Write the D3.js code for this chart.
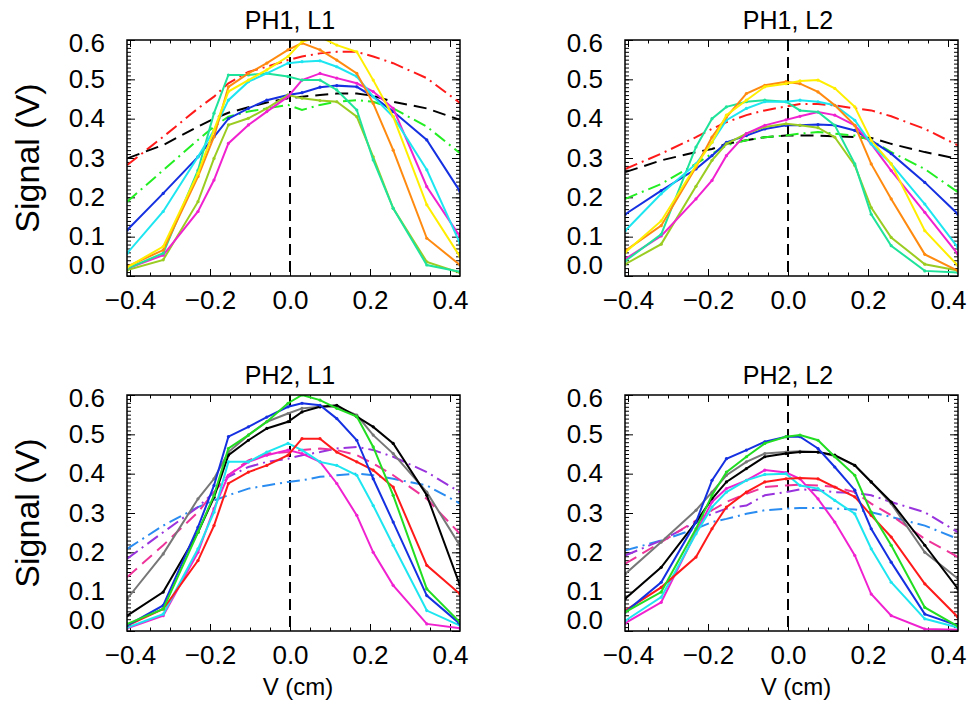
<!DOCTYPE html>
<html>
<head>
<meta charset="utf-8">
<script src="https://cdn.jsdelivr.net/npm/d3@7/dist/d3.min.js"></script>
<style>
  body { margin: 0; background: #fff; }
  svg { font-family: "Liberation Sans", Arial, sans-serif; }
  .tick text { font-size: 26px; fill: #000; }
  .axis path { display: none; }
  .axis line { stroke: #000; stroke-width: 1; }
</style>
</head>
<body>
<div id="chart"></div>
<script>
// sample positions (cm) shared by every scan
var xPos = [-0.407, -0.317, -0.23, -0.19, -0.154, -0.104, -0.058, -0.005, 0.03, 0.075, 0.117, 0.167, 0.208, 0.258, 0.342, 0.425];

var xTicks = [-0.4, -0.2, 0.0, 0.2, 0.4];
var yTicks = [0.0, 0.1, 0.2, 0.3, 0.4, 0.5, 0.6];
var titles = ["PH1, L1", "PH1, L2", "PH2, L1", "PH2, L2"];

// PH1, L1
var p11_blue    = [0.117, 0.21, 0.303, 0.354, 0.40, 0.426, 0.447, 0.46, 0.466, 0.48, 0.484, 0.481, 0.456, 0.418, 0.346, 0.215];
var p11_cyan    = [0.058, 0.164, 0.303, 0.371, 0.447, 0.494, 0.515, 0.541, 0.545, 0.547, 0.532, 0.507, 0.456, 0.405, 0.27, 0.083];
var p11_orange  = [0.024, 0.066, 0.253, 0.354, 0.481, 0.515, 0.541, 0.575, 0.592, 0.575, 0.549, 0.515, 0.439, 0.32, 0.096, 0.028];
var p11_yellow  = [0.022, 0.075, 0.261, 0.371, 0.469, 0.498, 0.524, 0.558, 0.596, 0.608, 0.587, 0.570, 0.498, 0.405, 0.181, 0.049];
var p11_teal    = [0.019, 0.058, 0.269, 0.414, 0.511, 0.511, 0.515, 0.507, 0.498, 0.498, 0.473, 0.422, 0.295, 0.172, 0.028, 0.011];
var p11_olive   = [0.015, 0.041, 0.189, 0.299, 0.384, 0.401, 0.426, 0.46, 0.452, 0.446, 0.443, 0.405, 0.303, 0.172, 0.036, 0.008];
var p11_magenta = [0.019, 0.053, 0.164, 0.244, 0.337, 0.384, 0.418, 0.456, 0.498, 0.515, 0.503, 0.49, 0.469, 0.426, 0.227, 0.10];
var p11_redFit  = [0.282, 0.354, 0.426, 0.456, 0.49, 0.519, 0.532, 0.549, 0.558, 0.566, 0.57, 0.57, 0.558, 0.541, 0.503, 0.44];
var p11_blkFit  = [0.299, 0.333, 0.38, 0.40, 0.415, 0.429, 0.441, 0.452, 0.456, 0.46, 0.464, 0.464, 0.458, 0.443, 0.426, 0.397];
var p11_grnFit  = [0.189, 0.269, 0.346, 0.38, 0.405, 0.418, 0.426, 0.435, 0.422, 0.435, 0.443, 0.447, 0.443, 0.426, 0.38, 0.312];

// PH1, L2
var p12_blue    = [0.157, 0.217, 0.272, 0.306, 0.34, 0.357, 0.374, 0.383, 0.383, 0.385, 0.383, 0.37, 0.345, 0.311, 0.238, 0.157];
var p12_cyan    = [0.115, 0.209, 0.285, 0.34, 0.396, 0.426, 0.443, 0.443, 0.447, 0.443, 0.434, 0.396, 0.336, 0.285, 0.183, 0.072];
var p12_orange  = [0.064, 0.128, 0.277, 0.353, 0.404, 0.464, 0.485, 0.494, 0.489, 0.468, 0.434, 0.383, 0.285, 0.196, 0.055, 0.013];
var p12_yellow  = [0.06, 0.14, 0.281, 0.34, 0.409, 0.447, 0.481, 0.489, 0.496, 0.498, 0.477, 0.43, 0.345, 0.285, 0.115, 0.026];
var p12_teal    = [0.038, 0.106, 0.328, 0.40, 0.43, 0.443, 0.447, 0.443, 0.421, 0.417, 0.383, 0.285, 0.157, 0.077, 0.013, 0.009];
var p12_olive   = [0.03, 0.081, 0.228, 0.294, 0.336, 0.362, 0.379, 0.387, 0.383, 0.377, 0.353, 0.281, 0.174, 0.098, 0.03, 0.014];
var p12_magenta = [0.043, 0.102, 0.196, 0.243, 0.306, 0.362, 0.383, 0.397, 0.406, 0.417, 0.409, 0.383, 0.336, 0.268, 0.162, 0.055];
var p12_redFit  = [0.272, 0.311, 0.353, 0.374, 0.391, 0.409, 0.421, 0.431, 0.437, 0.437, 0.434, 0.426, 0.421, 0.406, 0.374, 0.332];
var p12_blkFit  = [0.264, 0.294, 0.315, 0.323, 0.336, 0.345, 0.353, 0.357, 0.357, 0.357, 0.355, 0.353, 0.351, 0.336, 0.315, 0.298];
var p12_grnFit  = [0.196, 0.234, 0.285, 0.311, 0.332, 0.345, 0.353, 0.357, 0.362, 0.366, 0.362, 0.357, 0.345, 0.315, 0.272, 0.213];

// PH2, L1
var p21_black   = [0.039, 0.099, 0.251, 0.34, 0.447, 0.485, 0.515, 0.532, 0.557, 0.57, 0.574, 0.545, 0.519, 0.477, 0.345, 0.116];
var p21_gray    = [0.082, 0.196, 0.336, 0.387, 0.455, 0.498, 0.532, 0.553, 0.566, 0.57, 0.57, 0.549, 0.498, 0.451, 0.353, 0.217];
var p21_blue    = [0.014, 0.065, 0.264, 0.37, 0.494, 0.519, 0.544, 0.57, 0.579, 0.574, 0.54, 0.485, 0.387, 0.277, 0.09, 0.018];
var p21_green   = [0.018, 0.056, 0.251, 0.345, 0.464, 0.498, 0.532, 0.579, 0.60, 0.587, 0.566, 0.545, 0.468, 0.345, 0.107, 0.022];
var p21_red     = [0.014, 0.056, 0.179, 0.268, 0.375, 0.404, 0.421, 0.447, 0.489, 0.489, 0.455, 0.43, 0.409, 0.366, 0.167, 0.094];
var p21_cyan    = [0.009, 0.043, 0.209, 0.302, 0.43, 0.43, 0.455, 0.477, 0.46, 0.43, 0.421, 0.396, 0.319, 0.218, 0.052, 0.014];
var p21_magenta = [0.007, 0.039, 0.20, 0.311, 0.396, 0.43, 0.447, 0.46, 0.451, 0.43, 0.375, 0.294, 0.20, 0.116, 0.018, 0.007];
var p21_purFit  = [0.184, 0.251, 0.315, 0.353, 0.392, 0.417, 0.43, 0.438, 0.447, 0.455, 0.464, 0.468, 0.46, 0.443, 0.404, 0.353];
var p21_pinkFit = [0.137, 0.218, 0.302, 0.353, 0.396, 0.434, 0.451, 0.455, 0.46, 0.464, 0.46, 0.447, 0.426, 0.396, 0.336, 0.247];
var p21_bluFit  = [0.209, 0.268, 0.315, 0.332, 0.345, 0.362, 0.37, 0.379, 0.383, 0.392, 0.396, 0.40, 0.396, 0.387, 0.37, 0.324];

// PH2, L2
var p22_black   = [0.082, 0.162, 0.277, 0.336, 0.379, 0.413, 0.443, 0.451, 0.455, 0.455, 0.447, 0.421, 0.379, 0.328, 0.218, 0.107];
var p22_gray    = [0.145, 0.226, 0.307, 0.353, 0.396, 0.43, 0.451, 0.455, 0.457, 0.455, 0.445, 0.421, 0.379, 0.324, 0.20, 0.133];
var p22_blue    = [0.048, 0.124, 0.277, 0.383, 0.438, 0.46, 0.481, 0.494, 0.494, 0.464, 0.417, 0.358, 0.26, 0.175, 0.043, 0.014];
var p22_green   = [0.048, 0.099, 0.26, 0.345, 0.404, 0.443, 0.477, 0.494, 0.498, 0.485, 0.443, 0.396, 0.302, 0.218, 0.06, 0.012];
var p22_red     = [0.052, 0.111, 0.188, 0.26, 0.315, 0.353, 0.379, 0.387, 0.389, 0.387, 0.366, 0.341, 0.294, 0.239, 0.12, 0.035];
var p22_cyan    = [0.026, 0.086, 0.247, 0.315, 0.353, 0.383, 0.398, 0.40, 0.37, 0.362, 0.332, 0.298, 0.209, 0.124, 0.031, 0.009];
var p22_magenta = [0.02, 0.073, 0.251, 0.328, 0.362, 0.383, 0.409, 0.403, 0.387, 0.336, 0.277, 0.192, 0.094, 0.039, 0.005, 0.003];
var p22_purFit  = [0.192, 0.23, 0.277, 0.298, 0.311, 0.319, 0.345, 0.353, 0.36, 0.358, 0.353, 0.351, 0.345, 0.328, 0.302, 0.251];
var p22_pinkFit = [0.171, 0.226, 0.281, 0.307, 0.328, 0.349, 0.366, 0.37, 0.372, 0.37, 0.366, 0.353, 0.324, 0.294, 0.234, 0.188];
var p22_bluFit  = [0.205, 0.23, 0.26, 0.277, 0.285, 0.298, 0.307, 0.311, 0.313, 0.313, 0.311, 0.309, 0.302, 0.29, 0.268, 0.234];

// line styles
var DASH = "13,7";
var DASHDOT = "13,5,2,5";

var topSeries = function(s) {
  return [
    {v: s.redFit, color: "#ff1a1a", dash: DASHDOT},
    {v: s.blkFit, color: "#000000", dash: DASH},
    {v: s.grnFit, color: "#22ee22", dash: DASHDOT},
    {v: s.blue, color: "#1530e0"},
    {v: s.olive, color: "#9acc22"},
    {v: s.magenta, color: "#f022d0"},
    {v: s.teal, color: "#1fe39a"},
    {v: s.cyan, color: "#1ee6f0"},
    {v: s.orange, color: "#ff8a10"},
    {v: s.yellow, color: "#ffee00"}
  ];
};
var botSeries = function(s) {
  return [
    {v: s.bluFit, color: "#2a8cf0", dash: DASHDOT},
    {v: s.purFit, color: "#9933dd", dash: DASHDOT},
    {v: s.pinkFit, color: "#ee3399", dash: DASH},
    {v: s.gray, color: "#777777"},
    {v: s.black, color: "#000000"},
    {v: s.magenta, color: "#f022d0"},
    {v: s.cyan, color: "#1ee6f0"},
    {v: s.red, color: "#ff1a1a"},
    {v: s.blue, color: "#1530e0"},
    {v: s.green, color: "#22dd22"}
  ];
};

var panels = [
  {title: titles[0], left: 127, top: 40, ylab: true, xlab: false,
   series: topSeries({redFit: p11_redFit, blkFit: p11_blkFit, grnFit: p11_grnFit, blue: p11_blue, olive: p11_olive, magenta: p11_magenta, teal: p11_teal, cyan: p11_cyan, orange: p11_orange, yellow: p11_yellow})},
  {title: titles[1], left: 625, top: 40, ylab: false, xlab: false,
   series: topSeries({redFit: p12_redFit, blkFit: p12_blkFit, grnFit: p12_grnFit, blue: p12_blue, olive: p12_olive, magenta: p12_magenta, teal: p12_teal, cyan: p12_cyan, orange: p12_orange, yellow: p12_yellow})},
  {title: titles[2], left: 127, top: 395, ylab: true, xlab: true,
   series: botSeries({bluFit: p21_bluFit, purFit: p21_purFit, pinkFit: p21_pinkFit, gray: p21_gray, black: p21_black, magenta: p21_magenta, cyan: p21_cyan, red: p21_red, blue: p21_blue, green: p21_green})},
  {title: titles[3], left: 625, top: 395, ylab: false, xlab: true,
   series: botSeries({bluFit: p22_bluFit, purFit: p22_purFit, pinkFit: p22_pinkFit, gray: p22_gray, black: p22_black, magenta: p22_magenta, cyan: p22_cyan, red: p22_red, blue: p22_blue, green: p22_green})}
];

var svgWidth = 970, svgHeight = 704;
var width = 333, height = 236;

var svg = d3.select("#chart").append("svg").attr("width", svgWidth).attr("height", svgHeight);

var x = d3.scaleLinear().domain([-0.4075, 0.425]).range([0, width]);
var y = d3.scaleLinear().domain([0, 0.6]).range([height, 0]);

var xMinor = d3.range(-0.4, 0.4251, 0.05);
var yMinor = d3.range(0, 0.6001, 0.01);

panels.forEach(function(p, i) {
  var g = svg.append("g").attr("transform", `translate(${p.left}, ${p.top})`);

  g.append("clipPath").attr("id", "clip" + i)
    .append("rect").attr("width", width).attr("height", height);

  // ticks, all pointing inward, on all four sides
  g.append("g").attr("class", "axis").attr("transform", `translate(0, ${height})`)
    .call(d3.axisBottom(x).tickValues(xMinor).tickFormat("").tickSizeInner(-3.5).tickSizeOuter(0));
  g.append("g").attr("class", "axis").attr("transform", `translate(0, ${height})`)
    .call(d3.axisBottom(x).tickValues(xTicks).tickFormat(d3.format(".1f")).tickSizeInner(-7).tickSizeOuter(0).tickPadding(15));
  g.append("g").attr("class", "axis")
    .call(d3.axisTop(x).tickValues(xMinor).tickFormat("").tickSizeInner(-3.5).tickSizeOuter(0));
  g.append("g").attr("class", "axis")
    .call(d3.axisTop(x).tickValues(xTicks).tickFormat("").tickSizeInner(-7).tickSizeOuter(0));

  g.append("g").attr("class", "axis")
    .call(d3.axisLeft(y).tickValues(yMinor).tickFormat("").tickSizeInner(-4).tickSizeOuter(0));
  var yAx = g.append("g").attr("class", "axis")
    .call(d3.axisLeft(y).tickValues(yTicks).tickFormat(d3.format(".1f")).tickSizeInner(-8).tickSizeOuter(0).tickPadding(22));
  // IDL pulls the end labels inside the frame
  yAx.selectAll(".tick text").attr("dy", d => d === 0 ? "-0.08em" : (d === 0.6 ? "0.44em" : "0.32em"));
  g.append("g").attr("class", "axis").attr("transform", `translate(${width}, 0)`)
    .call(d3.axisRight(y).tickValues(yMinor).tickFormat("").tickSizeInner(-4).tickSizeOuter(0));
  g.append("g").attr("class", "axis").attr("transform", `translate(${width}, 0)`)
    .call(d3.axisRight(y).tickValues(yTicks).tickFormat("").tickSizeInner(-8).tickSizeOuter(0));

  var plot = g.append("g").attr("clip-path", `url(#clip${i})`);

  // V = 0 marker
  plot.append("line")
    .attr("x1", x(0)).attr("x2", x(0)).attr("y1", 0).attr("y2", height)
    .attr("stroke", "#000").attr("stroke-width", 2).attr("stroke-dasharray", "11,6");

  var line = d3.line().x((d, k) => x(xPos[k])).y(d => y(d));

  p.series.forEach(function(s) {
    plot.append("path")
      .datum(s.v)
      .attr("d", line)
      .attr("fill", "none")
      .attr("stroke", s.color)
      .attr("stroke-width", 2)
      .attr("stroke-dasharray", s.dash || null);
    if (!s.dash) {
      plot.selectAll(null).data(s.v).enter().append("circle")
        .attr("cx", (d, k) => x(xPos[k]))
        .attr("cy", d => y(d))
        .attr("r", 1.6)
        .attr("fill", s.color);
    }
  });

  // frame
  g.append("rect").attr("width", width).attr("height", height)
    .attr("fill", "none").attr("stroke", "#000").attr("stroke-width", 1.5);

  g.append("text")
    .attr("x", x(0)).attr("y", -11)
    .attr("text-anchor", "middle").attr("font-size", 25)
    .text(p.title);

  if (p.ylab) {
    g.append("text")
      .attr("transform", `translate(${39 - p.left}, ${height / 2}) rotate(-90)`)
      .attr("text-anchor", "middle").attr("font-size", 34)
      .text("Signal (V)");
  }
  if (p.xlab) {
    g.append("text")
      .attr("x", x(0) + 8).attr("y", height + 64)
      .attr("text-anchor", "middle").attr("font-size", 24)
      .text("V (cm)");
  }
});
</script>
</body>
</html>
